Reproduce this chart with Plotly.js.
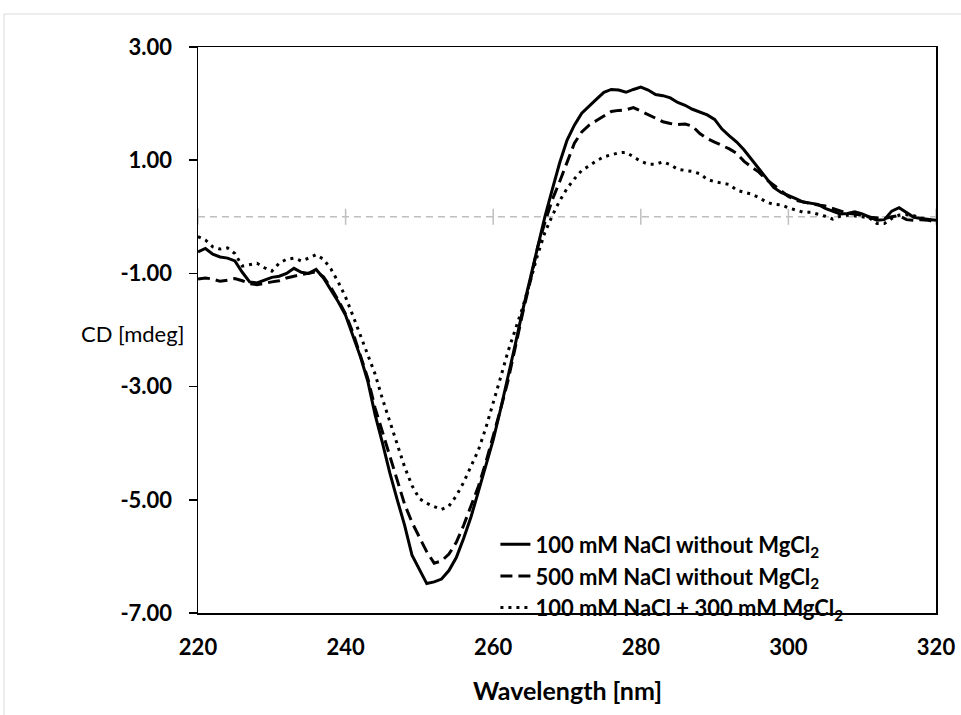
<!DOCTYPE html>
<html>
<head>
<meta charset="utf-8">
<script src="https://cdn.plot.ly/plotly-3.0.1.min.js"></script>
<style>html,body{margin:0;padding:0;background:#fff;}#chart{width:961px;height:715px;}</style>
</head>
<body>
<div id="chart"></div>
<script>
// Wavelength (nm), 220..320 in 1 nm steps
const wavelength = [];
for (let w = 220; w <= 320; w++) wavelength.push(w);

const seriesNames = [
  "100 mM NaCl without MgCl<sub>2</sub>",
  "500 mM NaCl without MgCl<sub>2</sub>",
  "100 mM NaCl + 300 mM MgCl<sub>2</sub>"
];

// CD [mdeg] — 100 mM NaCl without MgCl2 (solid)
const cdNaCl100 = [
  -0.62,-0.56,-0.66,-0.71,-0.73,-0.78,-0.98,-1.15,-1.17,-1.12,
  -1.07,-1.05,-1.00,-0.91,-0.98,-1.00,-0.93,-1.08,-1.28,-1.50,
  -1.74,-2.10,-2.47,-2.90,-3.50,-4.00,-4.53,-5.00,-5.45,-5.98,
  -6.22,-6.48,-6.45,-6.40,-6.25,-6.02,-5.68,-5.30,-4.85,-4.40,
  -3.94,-3.40,-2.85,-2.25,-1.65,-1.09,-0.55,0.00,0.48,0.95,
  1.35,1.62,1.83,1.96,2.08,2.20,2.25,2.24,2.20,2.25,
  2.29,2.24,2.16,2.14,2.10,2.02,1.97,1.90,1.85,1.80,
  1.72,1.55,1.43,1.32,1.18,1.02,0.86,0.68,0.52,0.43,
  0.38,0.32,0.26,0.24,0.22,0.15,0.10,0.05,0.06,0.09,
  0.05,0.00,-0.06,-0.05,0.10,0.16,0.08,-0.01,-0.03,-0.04,
  -0.06
];

// CD [mdeg] — 500 mM NaCl without MgCl2 (dashed)
const cdNaCl500 = [
  -1.10,-1.08,-1.10,-1.14,-1.12,-1.09,-1.13,-1.18,-1.20,-1.17,
  -1.15,-1.13,-1.08,-1.05,-1.02,-1.00,-0.97,-1.06,-1.25,-1.47,
  -1.72,-2.05,-2.45,-2.85,-3.38,-3.80,-4.25,-4.65,-5.08,-5.40,
  -5.65,-5.92,-6.12,-6.08,-5.96,-5.75,-5.45,-5.12,-4.76,-4.34,
  -3.88,-3.40,-2.90,-2.29,-1.70,-1.15,-0.55,-0.10,0.30,0.62,
  0.97,1.30,1.50,1.62,1.70,1.78,1.86,1.88,1.89,1.93,
  1.87,1.80,1.74,1.68,1.65,1.63,1.64,1.60,1.47,1.38,
  1.32,1.26,1.20,1.12,0.98,0.88,0.79,0.66,0.56,0.47,
  0.36,0.29,0.26,0.24,0.21,0.19,0.15,0.10,0.06,0.05,
  0.03,-0.01,-0.02,-0.03,0.00,0.02,-0.05,-0.06,-0.05,-0.06,
  -0.07
];

// CD [mdeg] — 100 mM NaCl + 300 mM MgCl2 (dotted)
const cdNaClMg = [
  -0.35,-0.41,-0.53,-0.57,-0.55,-0.65,-0.87,-0.85,-0.82,-0.90,
  -0.96,-0.82,-0.75,-0.73,-0.78,-0.73,-0.67,-0.75,-0.92,-1.15,
  -1.42,-1.75,-2.10,-2.42,-2.78,-3.22,-3.60,-4.02,-4.42,-4.75,
  -4.98,-5.06,-5.12,-5.17,-5.11,-4.93,-4.69,-4.42,-4.12,-3.73,
  -3.30,-2.84,-2.38,-2.00,-1.60,-1.15,-0.68,-0.28,0.02,0.28,
  0.50,0.67,0.82,0.90,0.99,1.06,1.10,1.13,1.14,1.06,
  0.98,0.93,0.93,0.97,0.92,0.84,0.82,0.80,0.76,0.66,
  0.62,0.60,0.57,0.47,0.43,0.40,0.34,0.26,0.22,0.21,
  0.16,0.12,0.08,0.08,0.05,0.01,-0.04,0.01,0.03,0.02,
  0.00,-0.02,-0.12,-0.12,-0.03,0.03,0.04,0.02,-0.02,-0.05,
  -0.10
];

const xTicks = [220, 240, 260, 280, 300, 320];
const yTicks = [3, 1, -1, -3, -5, -7];
const yTickLabels = ["3.00", "1.00", "-1.00", "-3.00", "-5.00", "-7.00"];

const FONT = "Lato, 'Open Sans', sans-serif";

const traces = [
  {x: wavelength, y: cdNaCl100, name: seriesNames[0], legendgroup: "a", mode: "lines",
   line: {color: "#000", width: 3, dash: "solid"}},
  {x: wavelength, y: cdNaCl500, name: seriesNames[1], legendgroup: "b", mode: "lines",
   line: {color: "#000", width: 3, dash: "12px,6px"}},
  {x: wavelength, y: cdNaClMg, name: seriesNames[2], legendgroup: "c", mode: "lines",
   line: {color: "#000", width: 3, dash: "3px,5px"}}
];

const shapes = [
  // outer light frame
  {type: "rect", xref: "paper", yref: "paper", x0: -0.2629, x1: 1.1, y0: -0.3, y1: 1.0583,
   line: {color: "#d9d9d9", width: 1}, layer: "below"},
  // zero line (category axis crossing)
  {type: "line", xref: "x", yref: "y", x0: 220, x1: 320, y0: 0, y1: 0,
   line: {color: "#bfbfbf", width: 1.5, dash: "7px,5px"}, layer: "below"}
];
xTicks.forEach(t => {
  shapes.push({type: "line", xref: "x", yref: "y", xsizemode: "scaled", ysizemode: "pixel",
    yanchor: 0, x0: t, x1: t, y0: -8, y1: 8, line: {color: "#bfbfbf", width: 1.5}, layer: "below"});
});

const layout = {
  width: 961, height: 715,
  margin: {l: 198, r: 25, t: 47, b: 102},
  paper_bgcolor: "#fff", plot_bgcolor: "#fff",
  showlegend: true,
  legend: {x: 0.403, xanchor: "left", y: 0.158, yanchor: "top",
    bgcolor: "rgba(0,0,0,0)", traceorder: "grouped", tracegroupgap: 0,
    font: {family: FONT, size: 22, color: "#000", weight: "bold"}},
  xaxis: {range: [220, 320], tickvals: xTicks, ticktext: xTicks.map(String),
    showgrid: false, zeroline: false, showline: true, mirror: true,
    linecolor: "#000", linewidth: 1.5, ticks: "", ticklabelstandoff: 14,
    tickfont: {family: FONT, size: 22, color: "#000", weight: "bold"}},
  yaxis: {range: [-7, 3], tickvals: yTicks, ticktext: yTickLabels,
    showgrid: false, zeroline: false, showline: true, mirror: true,
    linecolor: "#000", linewidth: 1.5, ticks: "outside", ticklen: 8, tickwidth: 1.5,
    tickcolor: "#000", ticklabelstandoff: 12,
    tickfont: {family: FONT, size: 22, color: "#000", weight: "bold"}},
  shapes: shapes,
  annotations: [
    {text: "Wavelength [nm]", xref: "paper", yref: "paper", x: 0.5, y: -0.136,
     xanchor: "center", yanchor: "middle", showarrow: false,
     font: {family: FONT, size: 25, color: "#000", weight: "bold"}},
    {text: "CD [mdeg]", xref: "paper", yref: "paper", x: -0.0894, y: 0.494,
     xanchor: "center", yanchor: "middle", showarrow: false,
     font: {family: FONT, size: 22, color: "#000"}}
  ]
};

Plotly.newPlot("chart", traces, layout, {displayModeBar: false, staticPlot: true});
</script>
</body>
</html>
